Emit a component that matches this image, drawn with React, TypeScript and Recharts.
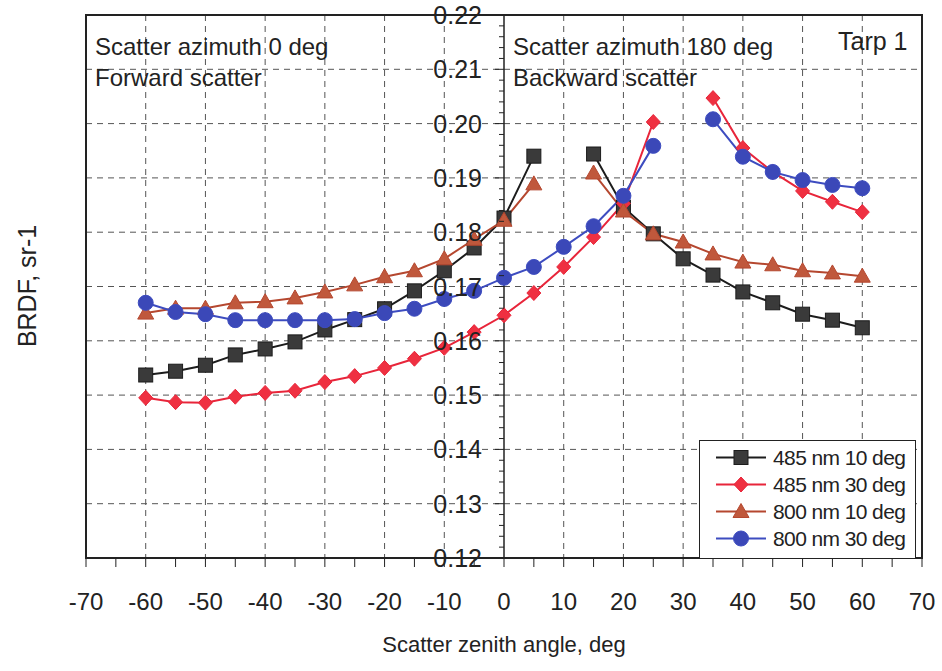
import { LineChart, Line, XAxis, YAxis, CartesianGrid, ReferenceLine, ReferenceArea, Legend } from 'recharts'

const ANGLES = [-60, -55, -50, -45, -40, -35, -30, -25, -20, -15, -10, -5, 0, 5, 10, 15, 20, 25, 30, 35, 40, 45, 50, 55, 60]

const NM485_10 = [0.1537, 0.1544, 0.1555, 0.1574, 0.1585, 0.1598, 0.1620, 0.1639, 0.1659, 0.1692, 0.1729, 0.1771, 0.1826, 0.1940, null, 0.1944, 0.1846, 0.1797, 0.1751, 0.1721, 0.1690, 0.1670, 0.1649, 0.1638, 0.1624]
const NM485_30 = [0.1495, 0.1487, 0.1486, 0.1497, 0.1504, 0.1508, 0.1524, 0.1535, 0.1550, 0.1567, 0.1587, 0.1616, 0.1647, 0.1688, 0.1736, 0.1791, 0.1853, 0.2003, null, 0.2047, 0.1955, 0.1911, 0.1876, 0.1856, 0.1837]
const NM800_10 = [0.1651, 0.1660, 0.1660, 0.1670, 0.1672, 0.1679, 0.1690, 0.1703, 0.1718, 0.1729, 0.1751, 0.1787, 0.1822, 0.1889, null, 0.1909, 0.1839, 0.1797, 0.1782, 0.1760, 0.1745, 0.1740, 0.1729, 0.1725, 0.1719]
const NM800_30 = [0.1670, 0.1653, 0.1649, 0.1638, 0.1638, 0.1638, 0.1638, 0.1640, 0.1651, 0.1659, 0.1677, 0.1692, 0.1716, 0.1736, 0.1773, 0.1811, 0.1867, 0.1959, null, 0.2008, 0.1939, 0.1911, 0.1896, 0.1887, 0.1881]

const X_TICKS = [-70, -65, -60, -55, -50, -45, -40, -35, -30, -25, -20, -15, -10, -5, 0, 5, 10, 15, 20, 25, 30, 35, 40, 45, 50, 55, 60, 65, 70]
const X_GRID = [-60, -50, -40, -30, -20, -10, 10, 20, 30, 40, 50, 60]
const Y_TICK_LABELS = ['0.12', '0.13', '0.14', '0.15', '0.16', '0.17', '0.18', '0.19', '0.20', '0.21', '0.22']
const Y_GRID = [0.13, 0.14, 0.15, 0.16, 0.17, 0.18, 0.19, 0.20, 0.21]

// minor ticks every 0.002 along the centre axis
const Y_TICKS = Array.from({ length: 51 }, (_, i) => Math.round((0.12 + i * 0.002) * 1000) / 1000)

const data = ANGLES.map((a, i) => ({
  angle: a,
  nm485_10: NM485_10[i],
  nm485_30: NM485_30[i],
  nm800_10: NM800_10[i],
  nm800_30: NM800_30[i],
}))

const W = 942
const H = 671
const Y_W = 1
const M = { top: 15, right: 20, left: 86 - Y_W, bottom: 0 }
const AXIS_X = 86 + (W - 86 - M.right) / 2
const FONT = "'Liberation Sans', Arial, Helvetica, sans-serif"

type Shape = 'square' | 'diamond' | 'triangle' | 'circle'

const SERIES: { key: string; name: string; line: string; fill: string; shape: Shape }[] = [
  { key: 'nm485_10', name: '485 nm 10 deg', line: '#1c1c1c', fill: '#3a3a3a', shape: 'square' },
  { key: 'nm485_30', name: '485 nm 30 deg', line: '#e8253a', fill: '#ef3041', shape: 'diamond' },
  { key: 'nm800_10', name: '800 nm 10 deg', line: '#b5472f', fill: '#c0583c', shape: 'triangle' },
  { key: 'nm800_30', name: '800 nm 30 deg', line: '#3d4cc0', fill: '#3b48b8', shape: 'circle' },
]

function Marker({ cx, cy, shape, fill, stroke }: { cx: number; cy: number; shape: Shape; fill: string; stroke: string }) {
  if (shape === 'square') return <rect x={cx - 7} y={cy - 7} width={14} height={14} fill={fill} stroke={stroke} strokeWidth={1} />
  if (shape === 'diamond') return <polygon points={`${cx},${cy - 7.5} ${cx + 7},${cy} ${cx},${cy + 7.5} ${cx - 7},${cy}`} fill={fill} stroke={stroke} strokeWidth={1} />
  if (shape === 'triangle') return <polygon points={`${cx},${cy - 8} ${cx + 8},${cy + 6} ${cx - 8},${cy + 6}`} fill={fill} stroke={stroke} strokeWidth={1} />
  return <circle cx={cx} cy={cy} r={7.5} fill={fill} stroke={stroke} strokeWidth={1} />
}

function makeDot(s: (typeof SERIES)[number]) {
  return (p: any) => {
    if (p.cy == null || p.value == null || isNaN(p.cy)) return <g key={`${s.key}-${p.index}`} />
    return (
      <g key={`${s.key}-${p.index}`}>
        <Marker cx={p.cx} cy={p.cy} shape={s.shape} fill={s.fill} stroke={s.line} />
      </g>
    )
  }
}

function XTick({ x, y, payload }: any) {
  const v = payload.value
  if (v % 10 !== 0) return <g />
  return (
    <text x={x} y={y} dy={41} textAnchor="middle" fontSize={24} fontFamily={FONT} fill="#222">
      {v}
    </text>
  )
}

function YTick({ y, payload }: any) {
  const v = payload.value
  const k = Math.round((v - 0.12) * 1000)
  const major = k % 10 === 0
  return (
    <g>
      <line x1={AXIS_X - (major ? 9 : 5)} x2={AXIS_X} y1={y} y2={y} stroke="#222" strokeWidth={1} />
      {major && (
        <text x={AXIS_X - 22} y={y} dy={9} textAnchor="end" fontSize={25} fontFamily={FONT} fill="#222">
          {Y_TICK_LABELS[k / 10]}
        </text>
      )}
    </g>
  )
}

function LegendBox() {
  return (
    <div
      style={{
        width: 217,
        height: 119,
        boxSizing: 'border-box',
        border: '1.5px solid #222',
        background: '#fff',
        paddingTop: 3,
        fontFamily: FONT,
        fontSize: 21,
        color: '#222',
      }}
    >
      {SERIES.map(s => (
        <div key={s.key} style={{ display: 'flex', alignItems: 'center', height: 27 }}>
          <svg width={70} height={27} style={{ marginLeft: 12 }}>
            <line x1={4} x2={54} y1={13.5} y2={13.5} stroke={s.line} strokeWidth={2} />
            <Marker cx={29} cy={13.5} shape={s.shape} fill={s.fill} stroke={s.line} />
          </svg>
          <span style={{ marginLeft: -9, letterSpacing: -0.6 }}>{s.name}</span>
        </div>
      ))}
    </div>
  )
}

export default function App() {
  return (
    <div style={{ position: 'absolute', left: 0, top: 0, width: W, height: H, background: '#fff' }}>
      <LineChart width={W} height={H} data={data} margin={M}>
        <CartesianGrid
          stroke="#555"
          strokeDasharray="6 5"
          strokeWidth={1}
          verticalValues={X_GRID}
          horizontalValues={Y_GRID}
        />
        <XAxis
          dataKey="angle"
          type="number"
          domain={[-70, 70]}
          ticks={X_TICKS}
          interval={0}
          height={113}
          tickSize={9}
          tickLine={{ stroke: '#222' }}
          axisLine={{ stroke: '#222', strokeWidth: 2 }}
          tick={<XTick />}
          label={{ value: 'Scatter zenith angle, deg', position: 'insideBottom', offset: 19, fontSize: 22, fontFamily: FONT, fill: '#222' }}
        />
        <YAxis
          type="number"
          domain={[0.12, 0.22]}
          ticks={Y_TICKS}
          interval={0}
          width={Y_W}
          axisLine={false}
          tickLine={false}
          tick={<YTick />}
          allowDataOverflow
        />
        <ReferenceArea x1={-70} x2={70} y1={0.12} y2={0.22} fill="none" stroke="#222" strokeWidth={2} ifOverflow="visible" />
        <ReferenceLine x={0} stroke="#222" strokeWidth={1.5} />
        {SERIES.map(s => (
          <Line
            key={s.key}
            dataKey={s.key}
            name={s.name}
            stroke={s.line}
            strokeWidth={2}
            dot={makeDot(s)}
            activeDot={false}
            connectNulls={false}
            isAnimationActive={false}
          />
        ))}
        <Legend
          layout="vertical"
          align="center"
          verticalAlign="middle"
          content={() => <LegendBox />}
          wrapperStyle={{ left: 699, top: 440, width: 217, height: 119 }}
        />
        <text x={27} y={286} transform="rotate(-90 27 286)" textAnchor="middle" dominantBaseline="central" fontSize={25} fontFamily={FONT} fill="#222">
          BRDF, sr-1
        </text>
        <text x={95} y={55} fontSize={24} fontFamily={FONT} fill="#222">Scatter azimuth 0 deg</text>
        <text x={95} y={86} fontSize={24} fontFamily={FONT} fill="#222">Forward scatter</text>
        <text x={513} y={55} fontSize={24} fontFamily={FONT} fill="#222">Scatter azimuth 180 deg</text>
        <text x={513} y={86} fontSize={24} fontFamily={FONT} fill="#222">Backward scatter</text>
        <text x={838} y={50} fontSize={25} fontFamily={FONT} fill="#222">Tarp 1</text>
      </LineChart>
    </div>
  )
}
